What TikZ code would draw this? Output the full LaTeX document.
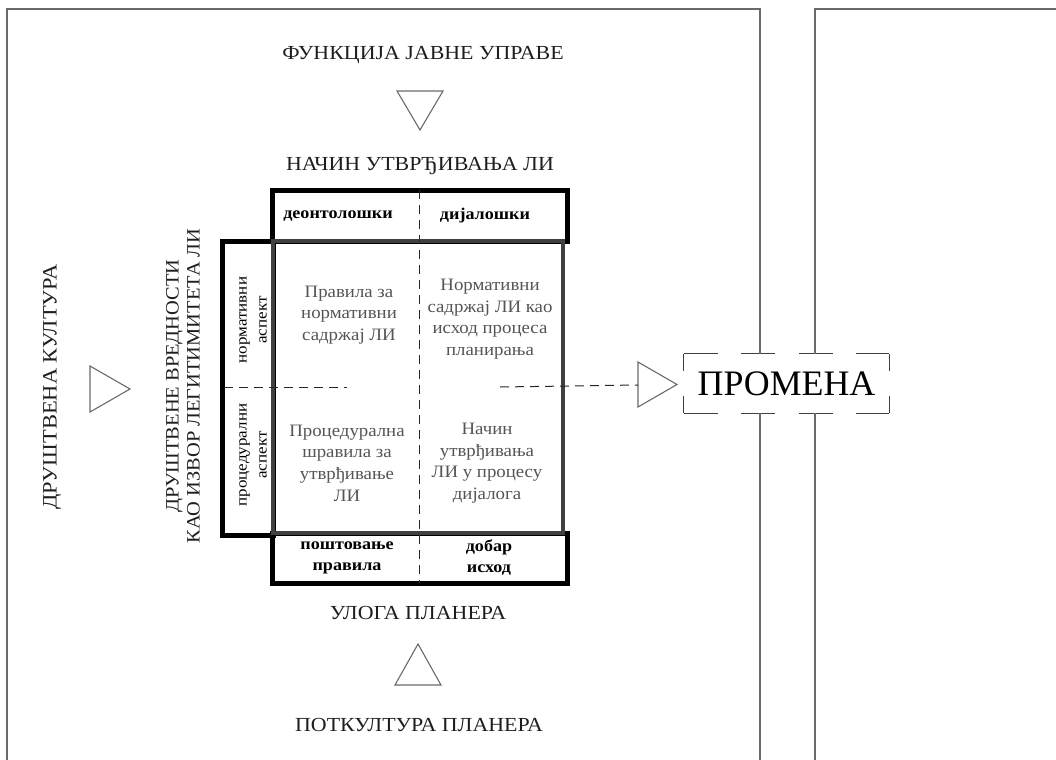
\documentclass[tikz,border=0pt]{standalone}
\usepackage{fontspec}
\setmainfont{Liberation Serif}
\newfontfamily\wideA[FakeStretch=1.10]{Liberation Serif}
\newfontfamily\wideB[FakeStretch=1.08]{Liberation Serif}
\definecolor{framegray}{HTML}{6A6A6A}
\definecolor{boxgray}{HTML}{404040}
\definecolor{cellgray}{HTML}{555555}
\definecolor{labelblack}{HTML}{1E1E1E}
\begin{document}
\begin{tikzpicture}[x=1bp,y=-1bp,
  frame/.style={draw=framegray, line width=1.3bp},
  tri/.style={draw=framegray, line width=1.1bp, line join=miter},
  blackbox/.style={draw=black, line width=5bp},
  mainbox/.style={draw=boxgray, line width=4bp},
  divider/.style={draw=black!85, line width=1bp, dash pattern=on 9bp off 6bp},
  promdash/.style={draw=black!75, line width=1.1bp},
  biglabel/.style={text=labelblack, font=\wideA\fontsize{20}{22}\selectfont},
  sidelabel/.style={text=labelblack, font=\wideA\fontsize{20.5}{22}\selectfont, rotate=90},
  valuelabel/.style={text=labelblack, font=\wideB\fontsize{19}{21}\selectfont, rotate=90, align=center},
  hdrtext/.style={text=black, font=\wideA\bfseries\fontsize{16.5}{21}\selectfont, align=center},
  rowtext/.style={text=black, font=\wideA\fontsize{15.5}{20}\selectfont, rotate=90, align=center},
  celltext/.style={text=cellgray, font=\wideB\fontsize{17.5}{21.7}\selectfont, align=center}
]
\useasboundingbox (0,0) rectangle (1056,760);
\clip (0,0) rectangle (1056,760);

% change box
\node[minimum width=205bp, minimum height=59bp, inner sep=0pt,
      font=\fontsize{36}{38}\selectfont, text=black] (prom) at (786.5,383.5) {ПРОМЕНА};
\draw[promdash, dash pattern=on 34bp off 23.5bp] (prom.north west) -- (prom.north east);
\draw[promdash, dash pattern=on 34bp off 23.5bp] (prom.south west) -- (prom.south east);
\draw[promdash, dash pattern=on 17bp off 25bp] (prom.north west) -- (prom.south west);
\draw[promdash, dash pattern=on 17bp off 25bp] (prom.north east) -- (prom.south east);

% frames
\coordinate (fa) at (760,9);
\coordinate (fb) at (815,9);
\draw[frame] (7,765) -- (7,9) -- (fa) -- (fa |- prom.north);
\draw[frame] (fa |- prom.south) -- (760,765);
\draw[frame] (1060,9) -- (fb) -- (fb |- prom.north);
\draw[frame] (fb |- prom.south) -- (815,765);

% grid boxes
\draw[blackbox] (272,190) rectangle (567,241);
\draw[blackbox] (272,533) rectangle (567,583);
\draw[blackbox] (222,241) rectangle (273,535);
\draw[mainbox] (273,241) rectangle (563,533);

% dividers
\coordinate (vtop) at (419,190);
\coordinate (vbot) at (419,583);
\draw[divider] (vtop) -- (vbot);
\coordinate (hl) at (224,387);
\coordinate (hm) at (347,387);
\coordinate (hr) at (500,387);

% triangles
\draw[tri] (397,91) -- (443,91) -- (420,130) -- cycle;
\draw[tri] (395,685) -- (441,685) -- (418,644) -- cycle;
\draw[tri] (90,366) -- (90,412) -- (130,389) -- cycle;
\draw[tri] (638,362) -- (638,407) -- (677,384.5) -- cycle;
\coordinate (tR) at (638,385);
\draw[divider] (hl) -- (hm);
\draw[divider] (hr) -- (tR);

% labels
\node[biglabel] (fun) at (423,55) {ФУНКЦИЈА ЈАВНЕ УПРАВЕ};
\node[biglabel] (nac) at (420,166) {НАЧИН УТВРЂИВАЊА ЛИ};
\node[biglabel] (ulo) at (418,613) {УЛОГА ПЛАНЕРА};
\node[biglabel] (pot) at (419,725) {ПОТКУЛТУРА ПЛАНЕРА};
\node[sidelabel] (dk) at (52,387) {ДРУШТВЕНА КУЛТУРА};
\node[valuelabel] (dv) at (183,386) {ДРУШТВЕНЕ ВРЕДНОСТИ\\КАО ИЗВОР ЛЕГИТИМИТЕТА ЛИ};

\node[hdrtext] (h1) at (338,216) {деонтолошки};
\node[hdrtext] (h2) at (485,216) {дијалошки};
\node[hdrtext] (b1) at (347,558) {поштовање\\правила};
\node[hdrtext] (b2) at (489,558) {добар\\исход};

\node[rowtext] (r1) at (253,320) {нормативни\\аспект};
\node[rowtext] (r2) at (253,455) {процедурални\\аспект};

\node[celltext] (c1) at (349,315) {Правила за\\нормативни\\садржај ЛИ};
\node[celltext] (c2) at (490,319) {Нормативни\\садржај ЛИ као\\исход процеса\\планирања};
\node[celltext] (c3) at (347,463) {Процедурална\\шравила за\\утврђивање\\ЛИ};
\node[celltext] (c4) at (487,463) {Начин\\утврђивања\\ЛИ у процесу\\дијалога};
\end{tikzpicture}
\end{document}
